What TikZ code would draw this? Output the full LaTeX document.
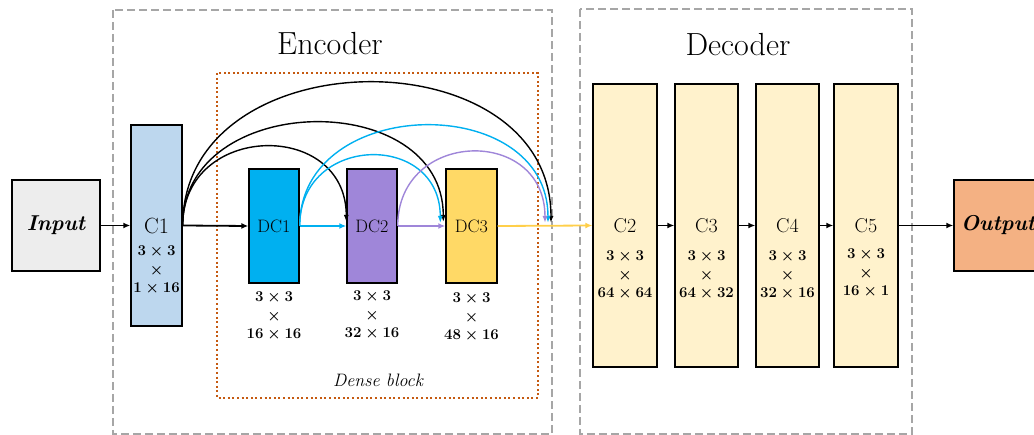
\RequirePackage{fix-cm}
\documentclass[tikz,border=0pt]{standalone}
\usepackage{fontspec}
\usetikzlibrary{arrows.meta,calc}
\definecolor{framegray}{HTML}{A6A6A6}
\definecolor{denseor}{HTML}{C55A11}
\definecolor{inpgray}{HTML}{EDEDED}
\definecolor{cblue}{HTML}{BDD7EE}
\definecolor{dcblue}{HTML}{00B0F0}
\definecolor{dcpurple}{HTML}{9F86D9}
\definecolor{dcyellow}{HTML}{FFD966}
\definecolor{decfill}{HTML}{FFF2CC}
\definecolor{outfill}{HTML}{F4B183}
\definecolor{ylwline}{HTML}{FFCF4A}
\begin{document}
\begin{tikzpicture}[x=1pt,y=-1pt,
  frame/.style={draw=framegray,line width=2.4pt,dash pattern=on 8pt off 4pt},
  dense/.style={draw=denseor,line width=2pt,dash pattern=on 2pt off 2.6pt},
  layer/.style={draw=black,line width=1.4pt,inner sep=0pt},
  dims/.style={font=\fontsize{15}{18.5}\selectfont\boldmath,align=center,inner sep=0pt,anchor=north},
  title/.style={font=\fontsize{32}{36}\selectfont},
  lbl/.style={font=\fontsize{#1}{#1}\selectfont},
  arr/.style={line width=1.8pt,-{Latex[length=7pt,width=6pt]}},
  arcarr/.style={line width=1.4pt,-{Latex[length=7pt,width=5pt]}}]
\useasboundingbox (0,0) rectangle (1034,435);
\clip (0,0) rectangle (1034,435);
% frames
\draw[frame] (113,10) rectangle (552,434);
\draw[frame] (580,9) rectangle (912,434);
\draw[dense] (217,73) rectangle (538,398);
\node[title] (enc) at (330,44) {Encoder};
\node[title] (dec) at (738,45) {Decoder};
\node[font=\fontsize{18}{20}\selectfont\itshape] (dbl) at (378,380) {Dense block};
% layers
\node[layer,fill=inpgray,minimum width=88pt,minimum height=91pt,font=\fontsize{21.5}{24}\selectfont\bfseries\itshape] (inp) at (56,225.5) {Input};
\node[layer,fill=cblue,minimum width=51pt,minimum height=201pt,lbl=22] (c1) at (156.5,225.5) {C1};
\node[dims] (c1d) at (156.5,246) {$3\times3$\\$\times$\\$1\times16$};
\node[layer,fill=dcblue,minimum width=50pt,minimum height=114pt,lbl=18] (dc1) at (274,226) {DC1};
\node[layer,fill=dcpurple,minimum width=50pt,minimum height=114pt,lbl=18] (dc2) at (372,226) {DC2};
\node[layer,fill=dcyellow,minimum width=51pt,minimum height=114pt,lbl=18] (dc3) at (471.5,226) {DC3};
\node[dims] (dc1d) at (274,292) {$3\times3$\\$\times$\\$16\times16$};
\node[dims] (dc2d) at (372,291) {$3\times3$\\$\times$\\$32\times16$};
\node[dims] (dc3d) at (471.5,293) {$3\times3$\\$\times$\\$48\times16$};
\node[layer,fill=decfill,minimum width=64pt,minimum height=283pt,lbl=20] (c2) at (625,225.5) {C2};
\node[layer,fill=decfill,minimum width=63pt,minimum height=283pt,lbl=20] (c3) at (706.5,225.5) {C3};
\node[layer,fill=decfill,minimum width=63pt,minimum height=283pt,lbl=20] (c4) at (787.5,225.5) {C4};
\node[layer,fill=decfill,minimum width=64pt,minimum height=283pt,lbl=20] (c5) at (866,225.5) {C5};
\node[dims] (c2d) at (625,251) {$3\times3$\\$\times$\\$64\times64$};
\node[dims] (c3d) at (706.5,251) {$3\times3$\\$\times$\\$64\times32$};
\node[dims] (c4d) at (787.5,251) {$3\times3$\\$\times$\\$32\times16$};
\node[dims] (c5d) at (866,249) {$3\times3$\\$\times$\\$16\times1$};
\node[layer,fill=outfill,minimum width=88pt,minimum height=91pt,font=\fontsize{21.5}{24}\selectfont\bfseries\itshape] (out) at (998,225.5) {Output};
% merge points
\coordinate (mk) at (551,223);
\coordinate (mb) at (548,223);
\coordinate (mp) at (545,223);
% straight arrows
\draw[arr] (inp.east) -- (c1.west);
\draw[arr] (c1.east) -- (dc1.west);
\draw[arr,draw=dcblue] (dc1.east) -- (dc2.west);
\draw[arr,draw=dcpurple] (dc2.east) -- (dc3.west);
\draw[arr,draw=ylwline] (dc3.east) -- (c2.west);
\draw[arr] (c2.east) -- (c3.west);
\draw[arr] (c3.east) -- (c4.west);
\draw[arr] (c4.east) -- (c5.west);
\draw[arr] (c5.east) -- (out.west);
% arcs
\draw[arcarr] (c1.east) .. controls +(0,-103) and +(0,-103) .. ($(dc2.west)+(0,-4)$);
\draw[arcarr] (c1.east) .. controls +(0,-135) and +(0,-135) .. ($(dc3.west)+(-2,-4)$);
\draw[arcarr] (c1.east) .. controls +(0,-189) and +(0,-189) .. (mk);
\draw[arcarr,draw=dcblue] (dc1.east) .. controls +(0,-92) and +(0,-92) .. ($(dc3.west)+(-5,-3)$);
\draw[arcarr,draw=dcblue] (dc1.east) .. controls +(0,-132) and +(0,-132) .. (mb);
\draw[arcarr,draw=dcpurple] (dc2.east) .. controls +(0,-97) and +(0,-97) .. (mp);
\end{tikzpicture}
\end{document}
